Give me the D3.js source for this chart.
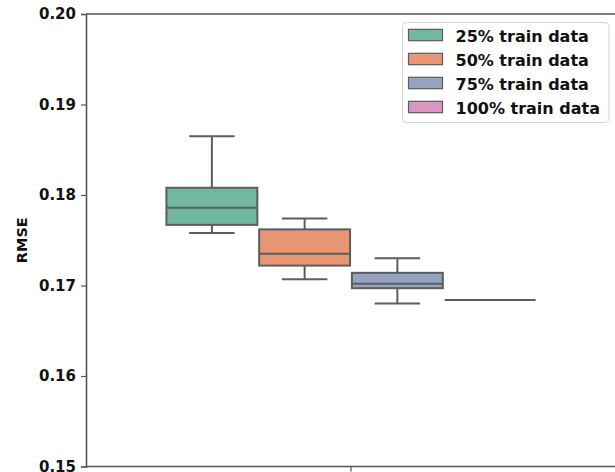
<!DOCTYPE html>
<html>
<head>
<meta charset="utf-8">
<script src="https://cdn.jsdelivr.net/npm/d3@7"></script>
<style>
  html, body { margin: 0; padding: 0; background: #fff; }
  svg { display: block; font-family: "DejaVu Sans", sans-serif; font-weight: bold; }
</style>
</head>
<body>
<svg id="chart" width="615" height="472"></svg>
<script>
// Series labels (one box per training-set size)
const seriesNames = ["25% train data", "50% train data", "75% train data", "100% train data"];
// Five-number summaries of RMSE per series: [min, q1, median, q3, max]
const mins    = [0.1758, 0.1707, 0.1680, 0.1684];
const q1s     = [0.1767, 0.1722, 0.1697, 0.1684];
const medians = [0.1786, 0.1735, 0.1702, 0.1684];
const q3s     = [0.1808, 0.1762, 0.1714, 0.1684];
const maxs    = [0.1865, 0.1774, 0.1730, 0.1684];
const colors  = ["#72b7a1", "#e99675", "#95a3c3", "#db96c0"];
const yTicks  = [0.15, 0.16, 0.17, 0.18, 0.19, 0.20];

const svg = d3.select("#chart");
const plotLeft = 86, plotRight = 616, plotTop = 14, plotBottom = 466.5;
const lineColor = "#5d5d5d";

const y = d3.scaleLinear().domain([0.15, 0.20]).range([plotBottom, plotTop]);
const x = d3.scaleLinear().domain([-0.5, 0.5]).range([plotLeft, plotRight]);
// hue offsets within the single x category
const groupWidth = 0.7;
const slot = groupWidth / seriesNames.length;
const hue = d3.scaleBand().domain(seriesNames).range([-groupWidth / 2, groupWidth / 2]);

// spines
svg.append("line").attr("x1", plotLeft).attr("x2", plotRight).attr("y1", plotTop).attr("y2", plotTop)
  .attr("stroke", "#555").attr("stroke-width", 1.6);
svg.append("line").attr("x1", plotLeft).attr("x2", plotRight).attr("y1", plotBottom).attr("y2", plotBottom)
  .attr("stroke", "#555").attr("stroke-width", 1.6);

// y axis
const yAxis = d3.axisLeft(y).tickValues(yTicks).tickFormat(d3.format(".2f")).tickSize(5).tickPadding(5);
const gy = svg.append("g").attr("transform", `translate(${plotLeft},0)`).call(yAxis);
gy.select(".domain").attr("stroke", "#555").attr("stroke-width", 1.6);
gy.selectAll(".tick line").attr("stroke", "#555").attr("stroke-width", 1.2);
gy.selectAll(".tick text").attr("font-size", 15).attr("font-weight", "bold")
  .attr("font-family", "DejaVu Sans").attr("fill", "#111");

// x tick for the single category
svg.append("line").attr("x1", x(0)).attr("x2", x(0)).attr("y1", plotBottom).attr("y2", plotBottom + 5)
  .attr("stroke", "#555").attr("stroke-width", 1.2);

// y label
svg.append("text").attr("transform", `translate(27,${(plotTop + plotBottom) / 2}) rotate(-90)`)
  .attr("text-anchor", "middle").attr("font-size", 14.5).attr("fill", "#111").text("RMSE");

// boxes
const boxes = svg.append("g");
seriesNames.forEach((name, i) => {
  const cx = x(hue(name) + slot / 2);
  const halfW = (x(slot) - x(0)) * 0.98 / 2;
  const g = boxes.append("g");
  // whiskers
  g.append("line").attr("x1", cx).attr("x2", cx).attr("y1", y(q3s[i])).attr("y2", y(maxs[i]))
    .attr("stroke", lineColor).attr("stroke-width", 2);
  g.append("line").attr("x1", cx).attr("x2", cx).attr("y1", y(q1s[i])).attr("y2", y(mins[i]))
    .attr("stroke", lineColor).attr("stroke-width", 2);
  // caps
  [mins[i], maxs[i]].forEach(v => {
    g.append("line").attr("x1", cx - halfW / 2).attr("x2", cx + halfW / 2)
      .attr("y1", y(v)).attr("y2", y(v)).attr("stroke", lineColor).attr("stroke-width", 2);
  });
  // box
  g.append("rect").attr("x", cx - halfW).attr("width", halfW * 2)
    .attr("y", y(q3s[i])).attr("height", Math.max(0, y(q1s[i]) - y(q3s[i])))
    .attr("fill", colors[i]).attr("stroke", lineColor).attr("stroke-width", 2);
  // median
  g.append("line").attr("x1", cx - halfW).attr("x2", cx + halfW)
    .attr("y1", y(medians[i])).attr("y2", y(medians[i]))
    .attr("stroke", lineColor).attr("stroke-width", 2);
});

// legend
const lg = svg.append("g");
lg.append("rect").attr("x", 402.5).attr("y", 22.5).attr("width", 206.5).attr("height", 100)
  .attr("rx", 4).attr("fill", "#fff").attr("fill-opacity", 0.8)
  .attr("stroke", "#d4d4d4").attr("stroke-width", 1);
seriesNames.forEach((name, i) => {
  const ty = 29.3 + i * 24;
  lg.append("rect").attr("x", 408.5).attr("y", ty).attr("width", 34).attr("height", 11.4)
    .attr("fill", colors[i]).attr("stroke", lineColor).attr("stroke-width", 1.2);
  lg.append("text").attr("x", 455.5).attr("y", ty + 12.4).attr("font-size", 16)
    .attr("fill", "#111").text(name);
});
</script>
</body>
</html>
